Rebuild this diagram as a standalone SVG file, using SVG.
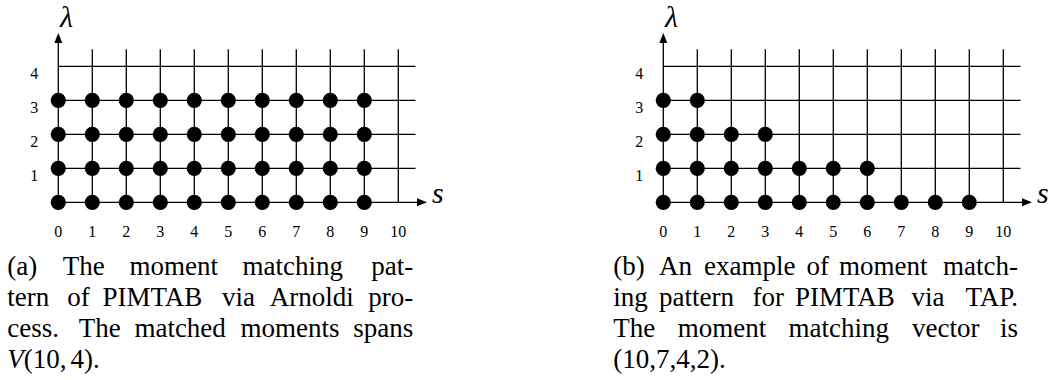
<svg xmlns="http://www.w3.org/2000/svg" width="1054" height="380" viewBox="0 0 1054 380" font-family="'Liberation Serif', 'Times New Roman', 'DejaVu Serif', serif">
<style>
.grid{stroke:#000;stroke-width:1.3;fill:none}
.dot{fill:#000}
.num{font-family:'Liberation Serif','Times New Roman','DejaVu Serif',serif;font-size:16px;fill:#000;text-anchor:middle}
.axl{font-family:'Liberation Serif','Times New Roman','DejaVu Serif',serif;font-size:30px;font-style:italic;fill:#000}
.cap{font-family:'Liberation Serif','Times New Roman','DejaVu Serif',serif;font-size:27px;fill:#000}
.e{text-anchor:end}
</style>
<defs>
<marker id="arr" markerUnits="userSpaceOnUse" markerWidth="10" markerHeight="8" refX="4" refY="4" orient="auto">
<path d="M0,0 L10,4 L0,8 z" fill="#000"/>
</marker>
</defs>

<!-- Panel (a) -->
<g id="panel-a">
<g id="connectors-a" class="grid">
<path d="M92.3,49.3V202.3M126.3,49.3V202.3M160.3,49.3V202.3M194.3,49.3V202.3M228.3,49.3V202.3M262.3,49.3V202.3M296.3,49.3V202.3M330.3,49.3V202.3M364.3,49.3V202.3M398.3,49.3V202.3"/>
<path d="M58.3,66.3H415.5M58.3,100.3H415.5M58.3,134.3H415.5M58.3,168.3H415.5"/>
<line x1="58.3" y1="202.3" x2="421" y2="202.3" marker-end="url(#arr)"/>
<line x1="58.3" y1="202.3" x2="58.3" y2="39" marker-end="url(#arr)"/>
</g>
<text class="axl" x="60" y="27">λ</text>
<text class="axl" x="432" y="203">s</text>
<g id="rowlabels-a" class="num">
<text x="34.3" y="78.5">4</text><text x="34.3" y="112.5">3</text><text x="34.3" y="146.5">2</text><text x="34.3" y="180.5">1</text>
</g>
<g id="collabels-a" class="num">
<text x="58.3" y="236.5">0</text><text x="92.3" y="236.5">1</text><text x="126.3" y="236.5">2</text><text x="160.3" y="236.5">3</text><text x="194.3" y="236.5">4</text><text x="228.3" y="236.5">5</text><text x="262.3" y="236.5">6</text><text x="296.3" y="236.5">7</text><text x="330.3" y="236.5">8</text><text x="364.3" y="236.5">9</text><text x="398.3" y="236.5">10</text>
</g>
<g id="dots-a" class="dot">
<g id="a-row0"><circle cx="58.3" cy="202.3" r="7.6"/><circle cx="92.3" cy="202.3" r="7.6"/><circle cx="126.3" cy="202.3" r="7.6"/><circle cx="160.3" cy="202.3" r="7.6"/><circle cx="194.3" cy="202.3" r="7.6"/><circle cx="228.3" cy="202.3" r="7.6"/><circle cx="262.3" cy="202.3" r="7.6"/><circle cx="296.3" cy="202.3" r="7.6"/><circle cx="330.3" cy="202.3" r="7.6"/><circle cx="364.3" cy="202.3" r="7.6"/></g>
<g id="a-row1"><circle cx="58.3" cy="168.3" r="7.6"/><circle cx="92.3" cy="168.3" r="7.6"/><circle cx="126.3" cy="168.3" r="7.6"/><circle cx="160.3" cy="168.3" r="7.6"/><circle cx="194.3" cy="168.3" r="7.6"/><circle cx="228.3" cy="168.3" r="7.6"/><circle cx="262.3" cy="168.3" r="7.6"/><circle cx="296.3" cy="168.3" r="7.6"/><circle cx="330.3" cy="168.3" r="7.6"/><circle cx="364.3" cy="168.3" r="7.6"/></g>
<g id="a-row2"><circle cx="58.3" cy="134.3" r="7.6"/><circle cx="92.3" cy="134.3" r="7.6"/><circle cx="126.3" cy="134.3" r="7.6"/><circle cx="160.3" cy="134.3" r="7.6"/><circle cx="194.3" cy="134.3" r="7.6"/><circle cx="228.3" cy="134.3" r="7.6"/><circle cx="262.3" cy="134.3" r="7.6"/><circle cx="296.3" cy="134.3" r="7.6"/><circle cx="330.3" cy="134.3" r="7.6"/><circle cx="364.3" cy="134.3" r="7.6"/></g>
<g id="a-row3"><circle cx="58.3" cy="100.3" r="7.6"/><circle cx="92.3" cy="100.3" r="7.6"/><circle cx="126.3" cy="100.3" r="7.6"/><circle cx="160.3" cy="100.3" r="7.6"/><circle cx="194.3" cy="100.3" r="7.6"/><circle cx="228.3" cy="100.3" r="7.6"/><circle cx="262.3" cy="100.3" r="7.6"/><circle cx="296.3" cy="100.3" r="7.6"/><circle cx="330.3" cy="100.3" r="7.6"/><circle cx="364.3" cy="100.3" r="7.6"/></g>
</g>
<g id="caption-a" class="cap">
<text x="7.3" y="275">(a)</text><text x="62.8" y="275">The</text><text x="129.5" y="275">moment</text><text x="242.6" y="275">matching</text><text class="e" x="413.3" y="275">pat-</text>
<text x="7.3" y="306">tern</text><text x="67.2" y="306">of</text><text x="102.4" y="306">PIMTAB</text><text x="221.9" y="306">via</text><text x="269.7" y="306">Arnoldi</text><text class="e" x="413.3" y="306">pro-</text>
<text x="7.3" y="337">cess.</text><text x="78.8" y="337">The</text><text x="134.4" y="337">matched</text><text x="240.6" y="337">moments</text><text class="e" x="413.3" y="337">spans</text>
<text x="7.3" y="368"><tspan font-style="italic">V</tspan>(10,<tspan dx="4">4).</tspan></text>
</g>
</g>

<!-- Panel (b) -->
<g id="panel-b">
<g id="connectors-b" class="grid">
<path d="M697.3,49.3V202.3M731.3,49.3V202.3M765.3,49.3V202.3M799.3,49.3V202.3M833.3,49.3V202.3M867.3,49.3V202.3M901.3,49.3V202.3M935.3,49.3V202.3M969.3,49.3V202.3M1003.3,49.3V202.3"/>
<path d="M663.3,66.3H1020.5M663.3,100.3H1020.5M663.3,134.3H1020.5M663.3,168.3H1020.5"/>
<line x1="663.3" y1="202.3" x2="1026" y2="202.3" marker-end="url(#arr)"/>
<line x1="663.3" y1="202.3" x2="663.3" y2="39" marker-end="url(#arr)"/>
</g>
<text class="axl" x="665" y="27">λ</text>
<text class="axl" x="1037" y="203">s</text>
<g id="rowlabels-b" class="num">
<text x="639.3" y="78.5">4</text><text x="639.3" y="112.5">3</text><text x="639.3" y="146.5">2</text><text x="639.3" y="180.5">1</text>
</g>
<g id="collabels-b" class="num">
<text x="663.3" y="236.5">0</text><text x="697.3" y="236.5">1</text><text x="731.3" y="236.5">2</text><text x="765.3" y="236.5">3</text><text x="799.3" y="236.5">4</text><text x="833.3" y="236.5">5</text><text x="867.3" y="236.5">6</text><text x="901.3" y="236.5">7</text><text x="935.3" y="236.5">8</text><text x="969.3" y="236.5">9</text><text x="1003.3" y="236.5">10</text>
</g>
<g id="dots-b" class="dot">
<g id="b-row0"><circle cx="663.3" cy="202.3" r="7.6"/><circle cx="697.3" cy="202.3" r="7.6"/><circle cx="731.3" cy="202.3" r="7.6"/><circle cx="765.3" cy="202.3" r="7.6"/><circle cx="799.3" cy="202.3" r="7.6"/><circle cx="833.3" cy="202.3" r="7.6"/><circle cx="867.3" cy="202.3" r="7.6"/><circle cx="901.3" cy="202.3" r="7.6"/><circle cx="935.3" cy="202.3" r="7.6"/><circle cx="969.3" cy="202.3" r="7.6"/></g>
<g id="b-row1"><circle cx="663.3" cy="168.3" r="7.6"/><circle cx="697.3" cy="168.3" r="7.6"/><circle cx="731.3" cy="168.3" r="7.6"/><circle cx="765.3" cy="168.3" r="7.6"/><circle cx="799.3" cy="168.3" r="7.6"/><circle cx="833.3" cy="168.3" r="7.6"/><circle cx="867.3" cy="168.3" r="7.6"/></g>
<g id="b-row2"><circle cx="663.3" cy="134.3" r="7.6"/><circle cx="697.3" cy="134.3" r="7.6"/><circle cx="731.3" cy="134.3" r="7.6"/><circle cx="765.3" cy="134.3" r="7.6"/></g>
<g id="b-row3"><circle cx="663.3" cy="100.3" r="7.6"/><circle cx="697.3" cy="100.3" r="7.6"/></g>
</g>
<g id="caption-b" class="cap">
<text x="613.3" y="275">(b)</text><text x="659" y="275">An</text><text x="704" y="275">example</text><text x="806.5" y="275">of</text><text x="838.9" y="275">moment</text><text class="e" x="1018" y="275">match-</text>
<text x="613.3" y="306">ing</text><text x="659" y="306">pattern</text><text x="752.6" y="306">for</text><text x="794.9" y="306">PIMTAB</text><text x="911.5" y="306">via</text><text class="e" x="1018" y="306">TAP.</text>
<text x="613.3" y="337">The</text><text x="677.8" y="337">moment</text><text x="788.5" y="337">matching</text><text x="912" y="337">vector</text><text class="e" x="1018" y="337">is</text>
<text x="613.3" y="368">(10,7,4,2).</text>
</g>
</g>
</svg>
